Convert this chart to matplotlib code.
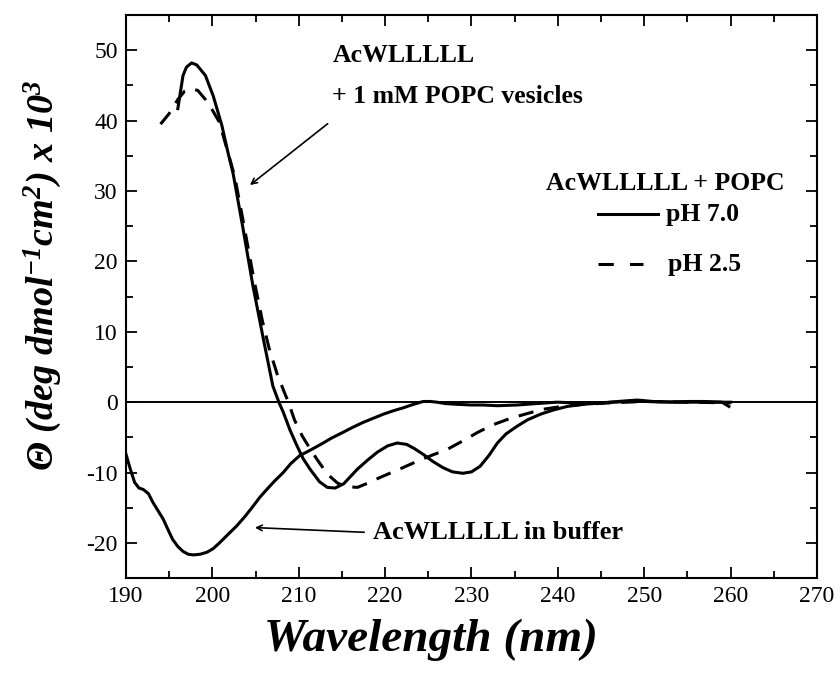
import numpy as np
import matplotlib
matplotlib.use("Agg")
from matplotlib import pyplot as plt
from matplotlib.ticker import MultipleLocator

plt.rcParams["axes.unicode_minus"] = False

# CD spectra (wavelength nm, ellipticity x 10^3)
wl_ph7 = [196.0, 196.6, 197.0, 197.6, 198.2, 199.2, 200.1, 201.1, 201.8, 202.4,
          203.5, 204.7, 205.9, 207.0, 207.7, 208.2, 209.0, 209.8, 210.5, 211.3,
          212.4, 213.3, 214.2, 215.2, 216.8, 218.0, 219.1, 220.3, 221.4, 222.5,
          223.4, 224.4, 225.5, 226.7, 227.8, 229.0, 230.0, 231.0, 232.0, 233.0,
          234.0, 235.3, 236.5, 238.0, 239.5, 241.1, 243.0, 245.0, 248.0, 250.0,
          255.0, 260.0]
th_ph7 = [41.7, 46.4, 47.6, 48.2, 47.9, 46.4, 43.5, 39.3, 35.5, 32.5,
          25.0, 16.5, 9.0, 2.3, 0.0, -1.4, -4.0, -6.2, -8.0, -9.5,
          -11.3, -12.1, -12.2, -11.6, -9.5, -8.2, -7.1, -6.2, -5.8, -6.0,
          -6.6, -7.4, -8.4, -9.3, -9.9, -10.1, -9.9, -9.1, -7.6, -5.8,
          -4.5, -3.4, -2.5, -1.7, -1.1, -0.6, -0.3, -0.1, 0.1, 0.1,
          0.0, 0.0]

wl_ph25 = [194.0, 195.0, 196.0, 196.8, 197.5, 198.3, 199.2, 200.0, 200.8, 201.8,
           202.6, 203.6, 204.8, 205.8, 206.6, 207.5, 208.3, 208.8, 209.5, 210.4,
           211.3, 212.1, 213.3, 214.5, 215.5, 216.8, 218.0, 219.4, 221.5, 223.7,
           225.5, 227.2, 229.0, 230.7, 232.5, 234.5, 236.5, 238.3, 240.5, 243.0,
           246.0, 250.0, 255.0, 260.0]
th_ph25 = [39.5, 41.0, 43.0, 44.2, 44.5, 44.3, 43.0, 41.5, 39.8, 35.5,
           32.0, 25.5, 17.5, 11.5, 7.5, 4.0, 1.5, 0.0, -2.5, -4.8,
           -6.6, -8.1, -10.2, -11.5, -12.0, -12.1, -11.5, -10.7, -9.6, -8.4,
           -7.5, -6.7, -5.5, -4.3, -3.2, -2.3, -1.6, -1.0, -0.6, -0.3,
           -0.1, 0.1, 0.0, -0.1]

wl_buf = [190.0, 190.5, 191.0, 191.5, 192.0, 192.6, 193.1, 193.7, 194.3, 194.9,
          195.4, 196.0, 196.6, 197.2, 197.8, 198.6, 199.4, 200.1, 200.9, 201.8,
          202.8, 203.8, 204.7, 205.5, 206.3, 207.2, 208.2, 209.1, 210.1, 211.2,
          212.4, 213.8, 215.1, 216.2, 217.4, 218.6, 219.8, 221.0, 222.1, 223.3,
          224.4, 225.2, 226.0, 227.0, 228.3, 230.0, 231.3, 233.0, 235.3, 237.5,
          239.9, 242.0, 244.0, 246.0, 248.0, 249.2, 251.0, 253.0, 255.0, 257.0,
          259.0, 259.8]
th_buf = [-7.4, -9.5, -11.4, -12.2, -12.4, -13.0, -14.2, -15.4, -16.6, -18.2,
          -19.5, -20.5, -21.2, -21.6, -21.7, -21.6, -21.3, -20.8, -19.9, -18.8,
          -17.6, -16.2, -14.8, -13.5, -12.4, -11.2, -10.0, -8.7, -7.6, -6.9,
          -6.1, -5.1, -4.3, -3.6, -2.9, -2.3, -1.7, -1.2, -0.8, -0.3,
          0.1, 0.1, 0.0, -0.2, -0.3, -0.4, -0.4, -0.5, -0.4, -0.2,
          0.0, -0.1, -0.2, 0.0, 0.2, 0.3, 0.1, 0.0, 0.1, 0.1,
          0.0, -0.6]

serif = "Liberation Serif"

fig = plt.figure(figsize=(8.4, 6.77), dpi=100)
ax = fig.add_axes([0.15, 0.146, 0.8226, 0.8318])

ax.axhline(0, color="black", lw=1.4, zorder=1)
ax.plot(wl_buf, th_buf, color="black", lw=2.2)
ax.plot(wl_ph7, th_ph7, color="black", lw=2.2)
ax.plot(wl_ph25, th_ph25, color="black", lw=2.2, dashes=(5, 3.5))

ax.set_xlim(190, 270)
ax.set_ylim(-25, 55)
ax.xaxis.set_major_locator(MultipleLocator(10))
ax.xaxis.set_minor_locator(MultipleLocator(5))
ax.yaxis.set_major_locator(MultipleLocator(10))
ax.yaxis.set_minor_locator(MultipleLocator(5))
ax.tick_params(which="both", direction="in", top=True, right=True, width=1.3)
ax.tick_params(which="major", length=8, labelsize=17, pad=6)
ax.tick_params(which="minor", length=5)
for lab in ax.get_xticklabels() + ax.get_yticklabels():
    lab.set_fontfamily(serif)
for sp in ax.spines.values():
    sp.set_linewidth(1.5)

ax.set_xlabel("Wavelength (nm)", fontfamily=serif, fontsize=34,
              fontweight="bold", fontstyle="italic")
ax.xaxis.set_label_coords(0.441, -0.072)
ax.set_ylabel(r"Θ (deg dmol$\mathregular{^{-1}}$cm$\mathregular{^{2}}$) x 10$\mathregular{^{3}}$",
              fontfamily=serif, fontsize=27.5, fontweight="bold",
              fontstyle="italic")
ax.yaxis.set_label_coords(-0.09, 0.538)

txt = dict(fontfamily=serif, fontweight="bold", va="center")
ax.text(213.9, 49.2, "AcWLLLLL", fontsize=18.5, **txt)
ax.text(213.9, 43.4, "+ 1 mM POPC vesicles", fontsize=18.5, **txt)
ax.annotate("", xy=(204.1, 30.6), xytext=(213.6, 39.8),
            arrowprops=dict(arrowstyle="->", color="black", lw=1.2))
ax.text(238.6, 31.0, "AcWLLLLL + POPC", fontsize=18.5, **txt)
ax.plot([244.6, 251.6], [26.7, 26.7], color="black", lw=2.2)
ax.text(252.5, 26.7, "pH 7.0", fontsize=18.5, **txt)
ax.plot([244.6, 249.9], [19.6, 19.6], color="black", lw=2.2, dashes=(5, 5.3))
ax.text(252.8, 19.6, "pH 2.5", fontsize=18.5, **txt)
ax.text(218.6, -18.5, "AcWLLLLL in buffer", fontsize=19, **txt)
ax.annotate("", xy=(204.6, -17.8), xytext=(217.9, -18.5),
            arrowprops=dict(arrowstyle="->", color="black", lw=1.2))

plt.savefig("out.png", dpi=100)
